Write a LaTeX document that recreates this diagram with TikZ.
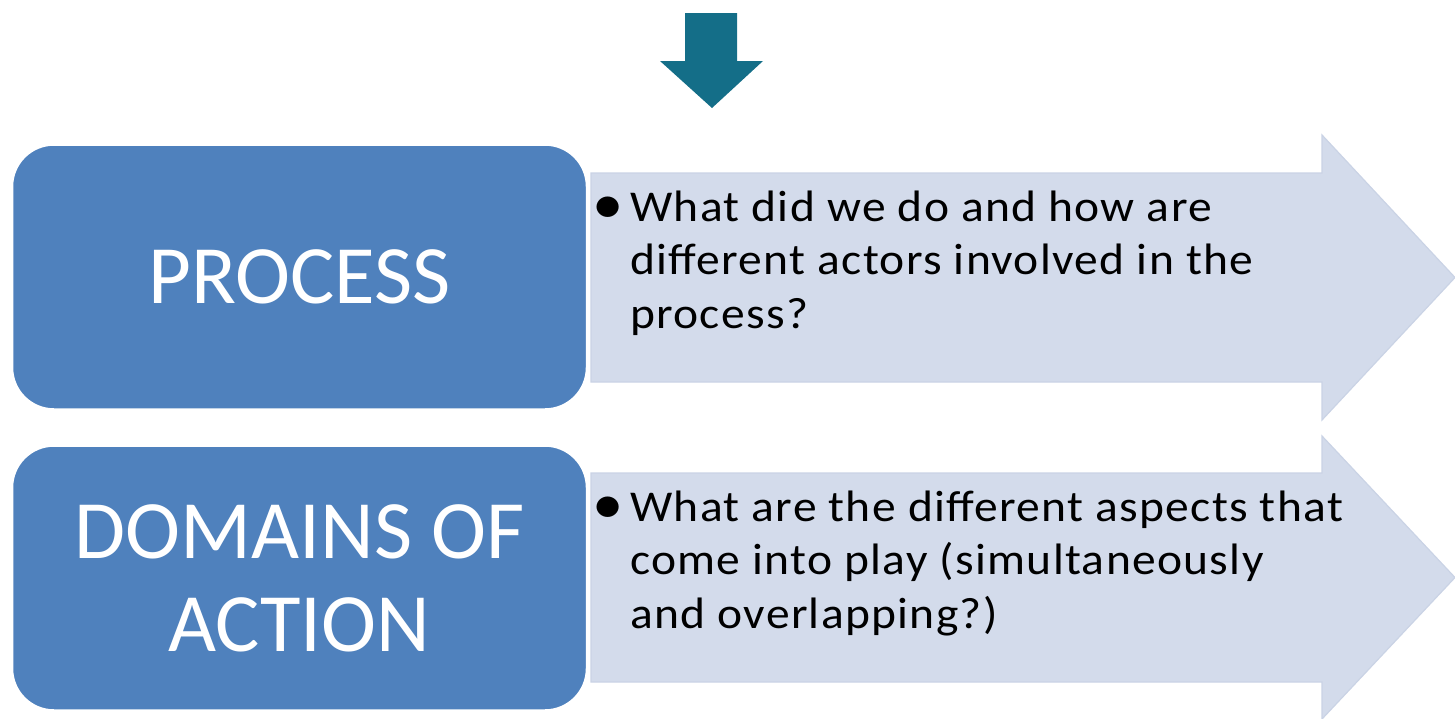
\documentclass[tikz,border=0pt]{standalone}
\usepackage{fontspec}
\setmainfont{Carlito}
\newfontfamily\widebody[FakeStretch=1.08,LetterSpace=3]{Carlito}
\definecolor{darkbox}{RGB}{79,129,189}
\definecolor{lightfill}{RGB}{211,219,235}
\definecolor{lightedge}{RGB}{202,211,229}
\definecolor{tealarrow}{RGB}{20,110,136}
\newcommand{\mybul}{\makebox[32pt][l]{\hskip-6pt\raisebox{-2.5pt}{\fontsize{58}{58}\selectfont\textbullet}}}
\tikzset{
  boxstyle/.style={fill=darkbox, draw=white, line width=2.5pt, rounded corners=42pt,
    minimum width=575pt, minimum height=265pt, text=white, inner sep=0pt,
    font=\fontsize{83}{93}\selectfont, align=center},
  chevron/.style={fill=lightfill, draw=lightedge, line width=1.2pt, line join=miter},
  bullettext/.style={anchor=base west, inner sep=0pt, text=black,
    font=\widebody\fontsize{44}{53.5}\selectfont}
}
\begin{document}
\begin{tikzpicture}[x=1pt,y=-1pt]
\useasboundingbox (0,0) rectangle (1455,718);
% top arrow
\fill[tealarrow] (685,13) -- (737,13) -- (737,61) -- (763,61) -- (712,108) -- (660,61) -- (685,61) -- cycle;
% light arrows
\draw[chevron] (591,173) -- (1322,173) -- (1322,135) -- (1455,277.5) -- (1322,420) -- (1322,382) -- (591,382) -- cycle;
\draw[chevron] (591,473) -- (1322,473) -- (1322,436) -- (1455,577.5) -- (1322,719) -- (1322,682) -- (591,682) -- cycle;
% boxes
\node[boxstyle] (process) at (299.5,277) {PROCESS};
\node[boxstyle] (domains) at (299.5,578) {DOMAINS OF\\ACTION};
% texts
\node[bullettext] (t1) at (598,221) {\vtop{\baselineskip=53.5pt
  \hbox{\mybul What did we do and how are}
  \hbox{\hskip32pt different actors involved in the}
  \hbox{\hskip32pt process?}}};
\node[bullettext] (t2) at (598,521) {\vtop{\baselineskip=53.5pt
  \hbox{\mybul What are the different aspects that}
  \hbox{\hskip32pt come into play (simultaneously}
  \hbox{\hskip32pt and overlapping?)}}};
\end{tikzpicture}
\end{document}
